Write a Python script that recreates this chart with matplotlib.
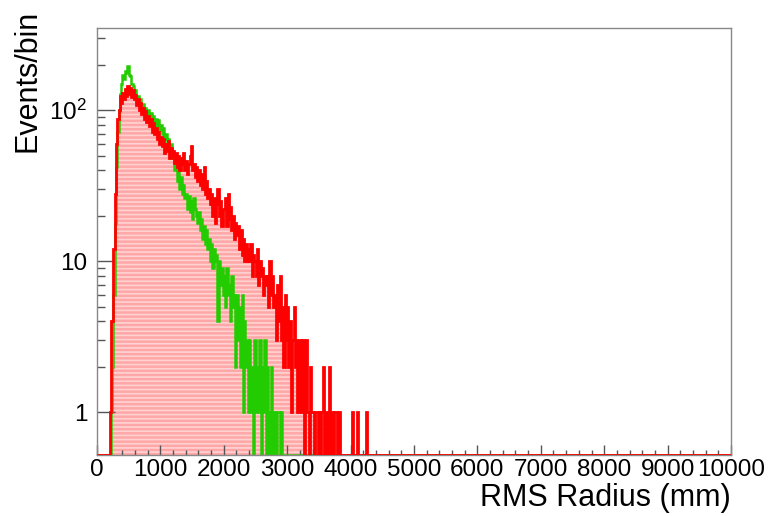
import numpy as np
import matplotlib.pyplot as plt
from matplotlib.ticker import MultipleLocator, FixedLocator, NullFormatter

plt.rcParams['font.family'] = ['Liberation Sans', 'DejaVu Sans']
plt.rcParams['mathtext.default'] = 'regular'
plt.rcParams['hatch.linewidth'] = 1.2

# histogram layout (mm)
bin_width = 20
x_max = 10000
data_start = 200

# red histogram, counts per 20 mm bin starting at 200 mm
red_counts = [
    1, 4, 4, 12, 28, 60, 88, 100, 125, 112,           # 200-380
    130, 118, 138, 125, 145, 128, 140, 122, 135, 118,  # 400-580
    126, 108, 118, 100, 112, 95, 104, 88, 98, 84,     # 600-780
    92, 78, 88, 72, 82, 70, 76, 64, 72, 60,           # 800-980
    66, 58, 64, 52, 60, 54, 62, 48, 56, 50,           # 1000-1180
    54, 45, 52, 42, 50, 40, 48, 44, 52, 40,           # 1200-1380
    46, 38, 44, 50, 58, 40, 44, 36, 42, 34,           # 1400-1580
    40, 32, 38, 30, 42, 28, 34, 26, 30, 24,           # 1600-1780
    28, 20, 26, 18, 24, 30, 20, 25, 17, 22,           # 1800-1980
    22, 26, 17, 28, 19, 23, 16, 20, 14, 18,           # 2000-2180
    15, 17, 12, 16, 11, 14, 10, 13, 10, 12,           # 2200-2380
    10, 13, 8, 11, 10, 8, 12, 7, 10, 8,               # 2400-2580
    9, 6, 8, 7, 8, 5, 10, 6, 8, 5,                    # 2600-2780
    6, 3, 7, 4, 8, 3, 5, 2, 6, 3,                     # 2800-2980
    5, 2, 4, 1, 3, 5, 2, 3, 1, 3,                     # 3000-3180
    3, 1, 3, 0, 2, 3, 1, 0, 2, 1,                     # 3200-3380
    1, 0, 1, 1, 0, 1, 0, 1, 2, 0,                     # 3400-3580
    1, 0, 0, 2, 0, 1, 0, 1, 1, 0,                     # 3600-3780
    1, 1, 0, 0, 0, 0, 0, 0, 0, 0,                     # 3800-3980
    0, 1, 0, 0, 0, 1, 0, 0, 0, 0,                     # 4000-4180
    0, 0, 1,                                          # 4200-4240
]

# green histogram, counts per 20 mm bin starting at 200 mm
green_counts = [
    0, 1, 2, 6, 18, 42, 72, 98, 128, 148,             # 200-380
    170, 160, 182, 175, 195, 172, 168, 150, 145, 128,  # 400-580
    135, 115, 125, 108, 118, 100, 110, 96, 104, 90,   # 600-780
    100, 88, 96, 84, 92, 80, 88, 78, 86, 74,          # 800-980
    80, 70, 76, 64, 70, 58, 64, 54, 60, 48,           # 1000-1180
    50, 40, 44, 34, 40, 30, 36, 28, 32, 26,           # 1200-1380
    28, 22, 27, 21, 25, 19, 26, 22, 20, 18,           # 1400-1580
    21, 16, 19, 14, 17, 13, 16, 12, 14, 10,           # 1600-1780
    13, 9, 12, 10, 11, 4, 10, 7, 9, 6,                # 1800-1980
    8, 5, 9, 6, 7, 4, 8, 5, 6, 2,                     # 2000-2180
    6, 3, 5, 2, 6, 1, 4, 2, 3, 1,                     # 2200-2380
    3, 1, 2, 0, 3, 1, 2, 1, 3, 0,                     # 2400-2580
    2, 1, 3, 0, 2, 1, 0, 2, 1, 0,                     # 2600-2780
    1, 0, 1, 1, 0, 1,                                 # 2800-2900
]

edges = np.arange(0, x_max + bin_width, bin_width)
n_bins = len(edges) - 1
ymin, ymax = 0.52, 350


def full_range(counts):
    arr = np.zeros(n_bins)
    i0 = data_start // bin_width
    arr[i0:i0 + len(counts)] = counts
    # empty bins are drawn on the lower frame, like ROOT does
    return np.maximum(arr, ymin)


red = full_range(red_counts)
green = full_range(green_counts)

fig = plt.figure(figsize=(7.68, 5.16), dpi=100)
ax = fig.add_axes([97 / 768, 61 / 516, 634 / 768, 427 / 516])

ax.stairs(red, edges, baseline=ymin, fill=True, facecolor='#ffa6a6',
          edgecolor='#ffd2d2', hatch='----', linewidth=0, zorder=1)
ax.stairs(green, edges, baseline=ymin, color='#22cc00', linewidth=1.8, zorder=2)
ax.stairs(red, edges, baseline=ymin, color='#ff0000', linewidth=2.0, zorder=3)

ax.set_yscale('log')
ax.set_xlim(0, x_max)
ax.set_ylim(ymin, ymax)

ax.xaxis.set_major_locator(MultipleLocator(1000))
ax.xaxis.set_minor_locator(MultipleLocator(200))
ax.yaxis.set_major_locator(FixedLocator([1, 10, 100]))
ax.set_yticklabels(['1', '10', '10$^2$'])
minor_y = [d * s for d in (1, 10, 100) for s in range(2, 10)]
ax.yaxis.set_minor_locator(FixedLocator([v for v in minor_y if v < ymax]))
ax.yaxis.set_minor_formatter(NullFormatter())

ax.tick_params(axis='x', which='major', direction='in', length=7, width=1,
               color='#555555', labelsize=17.5, pad=3)
ax.tick_params(axis='x', which='minor', direction='in', length=3.6, width=1,
               color='#555555')
ax.tick_params(axis='y', which='major', direction='in', length=13, width=1,
               color='#555555', labelsize=17.5, pad=7)
ax.tick_params(axis='y', which='minor', direction='in', length=6, width=1,
               color='#555555')
for sp in ax.spines.values():
    sp.set_color('#888888')
    sp.set_linewidth(1)

fig.text(731 / 768, 1 - 498 / 516, 'RMS Radius (mm)', ha='right', va='center',
         fontsize=22)
fig.text(27 / 768, 1 - 10 / 516, 'Events/bin', rotation=90, ha='center',
         va='top', fontsize=22)

fig.savefig('out.png', dpi=100)
